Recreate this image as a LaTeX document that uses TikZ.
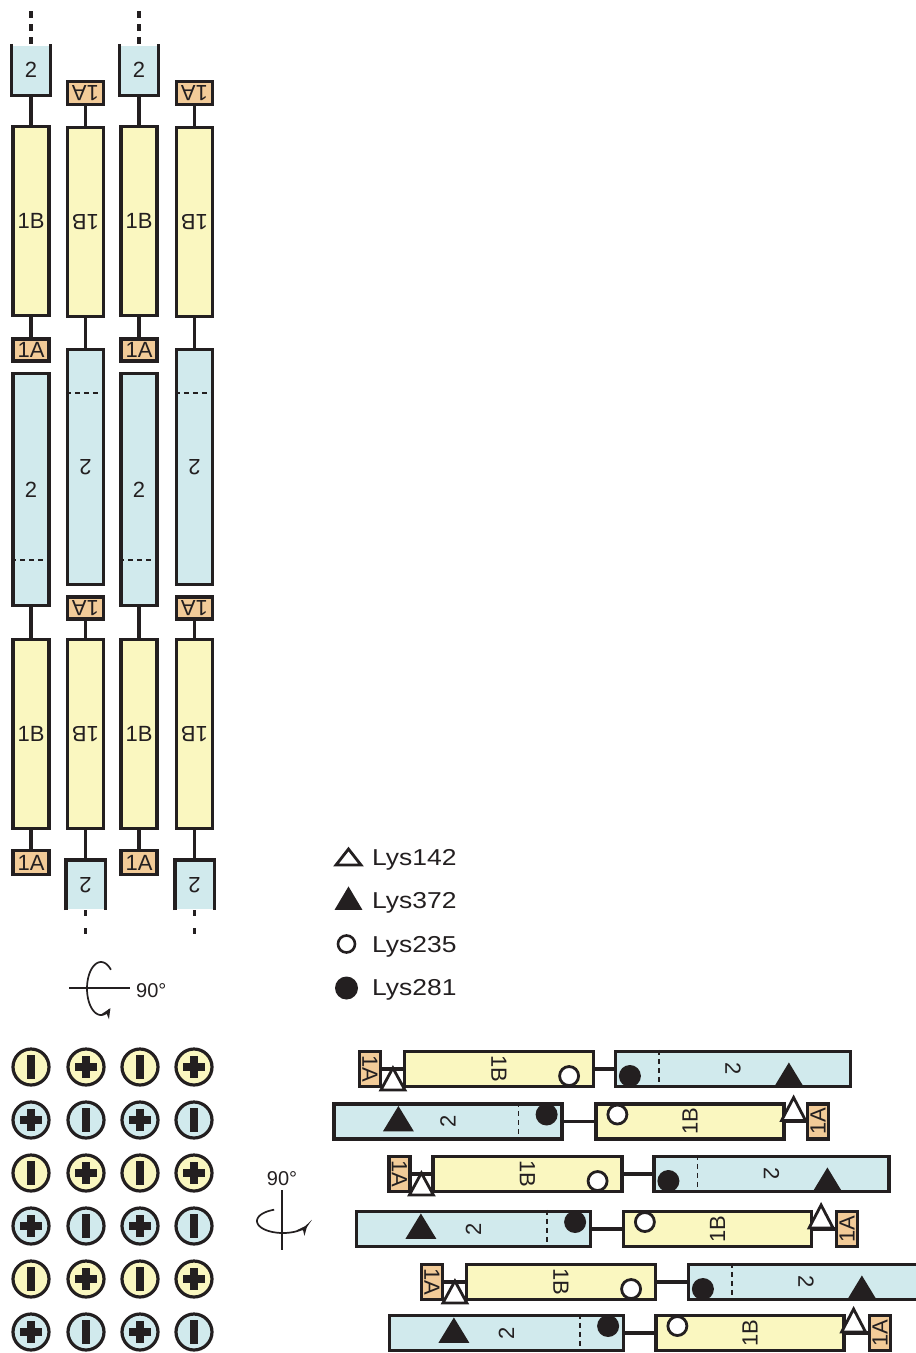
\documentclass[tikz,border=0pt]{standalone}
\usepackage{fontspec}
\setmainfont{Liberation Sans}
\newfontfamily\legendafont[FakeStretch=1.15]{Liberation Sans}
\usepackage{graphicx}
\usepackage{tikz}
\usetikzlibrary{arrows.meta, calc}
\usepackage{xcolor}
\definecolor{amarelo}{RGB}{250, 247, 192}
\definecolor{azul}{RGB}{209, 234, 237}
\definecolor{laranja}{RGB}{242, 203, 152}
\definecolor{tinta}{RGB}{35, 31, 32}
\newcommand{\virado}[1]{\rotatebox{180}{#1}}
\newcommand{\paraBaixo}[1]{\rotatebox{-90}{#1}}
\newcommand{\paraCima}[1]{\rotatebox{90}{#1}}
\tikzset{
  caixa/.style={
    draw=tinta, line width=3.2pt, inner sep=0pt, text=tinta,
    font=\fontsize{22}{24}\selectfont
  },
  caixaB/.style={caixa, fill=amarelo},
  caixaII/.style={caixa, fill=azul},
  caixaA/.style={caixa, fill=laranja},
  bolinha/.style={circle, draw=tinta, line width=3.2pt, minimum size=36pt, inner sep=0pt},
  ligacao/.style={draw=tinta, line width=3.2pt},
  tracejado/.style={draw=tinta, line width=1.6pt, dash pattern=on 5pt off 4pt},
  pontilhado/.style={draw=tinta, line width=3.2pt, dash pattern=on 7pt off 6pt},
  marcaVazia/.style={draw=tinta, fill=white, line width=2.8pt},
  marcaCheia/.style={draw=tinta, fill=tinta, line width=1.6pt},
  giro/.style={draw=tinta, line width=1.7pt},
  legenda/.style={anchor=base west, inner sep=0pt, text=tinta,
    font=\legendafont\fontsize{23}{26}\selectfont},
  rotulo/.style={anchor=base west, inner sep=0pt, text=tinta,
    font=\fontsize{20}{22}\selectfont},
}

\begin{document}
\begin{tikzpicture}[x=1pt, y=-1pt]
\useasboundingbox (0,0) rectangle (916,1353);

% colunas com o 1B para cima
\foreach \x/\n in {31/1, 139/3} {
  \node[caixaII, draw=none, minimum width=36pt, minimum height=48pt] (topo\n) at (\x,69.5) {2};
  \node[caixaB, minimum width=36pt, minimum height=189pt] (b1\n) at (\x,221) {1B};
  \node[caixaA, minimum width=36pt, minimum height=22pt] (a1\n) at (\x,350) {1A};
  \node[caixaII, minimum width=36pt, minimum height=232pt] (d\n) at (\x,489.5) {2};
  \node[caixaB, minimum width=36pt, minimum height=189pt] (b2\n) at (\x,734) {1B};
  \node[caixaA, minimum width=36pt, minimum height=24pt] (a2\n) at (\x,862.5) {1A};
  \coordinate (ponta\n) at (\x,10);
  \draw[ligacao] (topo\n.north west) -- (topo\n.south west) -- (topo\n.south east) -- (topo\n.north east);
  \draw[ligacao] (topo\n) -- (b1\n);
  \draw[ligacao] (b1\n) -- (a1\n);
  \draw[ligacao] (d\n) -- (b2\n);
  \draw[ligacao] (b2\n) -- (a2\n);
  \draw[pontilhado] (topo\n.north) -- (ponta\n);
  \draw[tracejado] ($(d\n.south west)+(0,-47)$) -- ($(d\n.south east)+(0,-47)$);
}

% colunas viradas
\foreach \x/\n in {85.5/2, 194.5/4} {
  \node[caixaA, minimum width=36pt, minimum height=23pt] (a1\n) at (\x,93) {\virado{1A}};
  \node[caixaB, minimum width=36pt, minimum height=189pt] (b1\n) at (\x,222) {\virado{1B}};
  \node[caixaII, minimum width=36pt, minimum height=235pt] (d\n) at (\x,467) {\virado{2}};
  \node[caixaA, minimum width=36pt, minimum height=22pt] (a2\n) at (\x,608) {\virado{1A}};
  \node[caixaB, minimum width=36pt, minimum height=189pt] (b2\n) at (\x,734) {\virado{1B}};
  \node[caixaII, draw=none, minimum width=36pt, minimum height=47pt] (base\n) at (\x,885) {\virado{2}};
  \coordinate (ponta\n) at (\x,936);
  \draw[ligacao] (base\n.south west) -- (base\n.north west) -- (base\n.north east) -- (base\n.south east);
  \draw[ligacao] (a1\n) -- (b1\n);
  \draw[ligacao] (b1\n) -- (d\n);
  \draw[ligacao] (a2\n) -- (b2\n);
  \draw[ligacao] (b2\n) -- (base\n);
  \draw[pontilhado, dash pattern=on 6pt off 12pt] (base\n.south) -- (ponta\n);
  \draw[tracejado] ($(d\n.north west)+(0,45)$) -- ($(d\n.north east)+(0,45)$);
}

% giro de 90 graus
\coordinate (eixoE) at (69,988);
\coordinate (eixoD) at (130,988);
\draw[giro] (eixoE) -- (eixoD);
\draw[giro, -{Stealth[length=10pt, width=9pt]}] plot[domain=45:312, samples=60, smooth] ({101+14*cos(\x)}, {988.5-26.5*sin(\x)});
\node[rotulo] (ang1) at (136,997) {90°};

% legenda
\draw[marcaVazia] (348.5,849) -- (336,865) -- (361,865) -- cycle;
\draw[marcaCheia] (348.5,888) -- (336,909) -- (361,909) -- cycle;
\draw[marcaVazia, line width=2.6pt] (346.5,944) circle[radius=8.5pt];
\fill[tinta] (346.5,988) circle[radius=11.5pt];
\node[legenda] (l142) at (372,865) {Lys142};
\node[legenda] (l372) at (372,908) {Lys372};
\node[legenda] (l235) at (372,952) {Lys235};
\node[legenda] (l281) at (372,995) {Lys281};

% vista de topo
\foreach \lin in {0,...,5} {
  \foreach \col/\xx in {0/31, 1/86, 2/140, 3/194} {
    \pgfmathsetmacro{\yy}{1067+53*\lin}
    \pgfmathtruncatemacro{\tom}{mod(\lin,2)}
    \pgfmathtruncatemacro{\sinal}{mod(\lin+\col,2)}
    \ifnum\tom=0 \def\fundo{amarelo}\else\def\fundo{azul}\fi
    \node[bolinha, fill=\fundo] (s\lin\col) at (\xx,\yy) {};
    \ifnum\sinal=0
      \fill[tinta] ($(s\lin\col)+(-3.7,-12)$) rectangle ($(s\lin\col)+(3.7,12)$);
    \else
      \fill[tinta] ($(s\lin\col)+(-11,-4)$) rectangle ($(s\lin\col)+(11,4)$);
      \fill[tinta] ($(s\lin\col)+(-4,-11)$) rectangle ($(s\lin\col)+(4,11)$);
    \fi
  }
}

% segundo giro
\coordinate (eixoC) at (282,1190);
\coordinate (eixoB) at (282,1250);
\draw[giro] (eixoC) -- (eixoB);
\draw[giro, -{Stealth[length=10pt, width=9pt]}] plot[domain=110:340, samples=60, smooth] ({283+26*cos(\x)}, {1221-12*sin(\x)});
\node[rotulo, anchor=base] (ang2) at (282,1185) {90°};

% fileiras deitadas, 1A a esquerda
\foreach \y/\xa/\xb/\xd/\n in {1069/370/499/733/1, 1174/399.5/527.5/771.5/3, 1282/432/561/806/5} {
  \node[caixaA, minimum width=21pt, minimum height=35pt] (ra\n) at (\xa,\y) {\paraBaixo{1A}};
  \node[caixaB, minimum width=189pt, minimum height=35pt] (rb\n) at (\xb,\y) {\paraBaixo{1B}};
  \node[caixaII, minimum width=235pt, minimum height=35pt] (rd\n) at (\xd,\y) {\paraBaixo{2}};
  \draw[ligacao] (ra\n) -- (rb\n);
  \draw[ligacao] (rb\n) -- (rd\n);
  \draw[tracejado] ($(rd\n.north west)+(45,0)$) -- ($(rd\n.south west)+(45,0)$);
  \draw[marcaVazia] ($(rb\n.west)+(-10,-1)$) -- ($(rb\n.west)+(-22,21)$) -- ($(rb\n.west)+(2,21)$) -- cycle;
  \draw[marcaVazia] ($(rb\n.east)+(-26,7)$) circle[radius=9.5pt];
  \fill[tinta] ($(rd\n.west)+(16,7)$) circle[radius=11pt];
  \draw[marcaCheia] ($(rd\n.west)+(175,-5)$) -- ($(rd\n.south west)+(161,-1)$) -- ($(rd\n.south west)+(189,-1)$) -- cycle;
}

% fileiras deitadas, 1A a direita
\foreach \y/\xd/\larg/\xb/\xa/\n in {1121.5/448/228/690/818/2, 1229/473.5/234/717.5/847/4, 1333/506.5/234/750/880/6} {
  \node[caixaII, minimum width=\larg, minimum height=35pt] (rd\n) at (\xd,\y) {\paraCima{2}};
  \node[caixaB, minimum width=188pt, minimum height=35pt] (rb\n) at (\xb,\y) {\paraCima{1B}};
  \node[caixaA, minimum width=21pt, minimum height=35pt] (ra\n) at (\xa,\y) {\paraCima{1A}};
  \draw[ligacao] (rd\n) -- (rb\n);
  \draw[ligacao] (rb\n) -- (ra\n);
  \draw[tracejado] ($(rd\n.north east)+(-45,0)$) -- ($(rd\n.south east)+(-45,0)$);
  \draw[marcaCheia] ($(rd\n.west)+(66,-14)$) -- ($(rd\n.west)+(52,9)$) -- ($(rd\n.west)+(80,9)$) -- cycle;
  \fill[tinta] ($(rd\n.east)+(-17,-7)$) circle[radius=11pt];
  \draw[marcaVazia] ($(rb\n.west)+(23,-7)$) circle[radius=9.5pt];
  \draw[marcaVazia] ($(rb\n.east)+(8,-24)$) -- ($(rb\n.east)+(-4,-1)$) -- ($(rb\n.east)+(20,-1)$) -- cycle;
}

\end{tikzpicture}
\end{document}
